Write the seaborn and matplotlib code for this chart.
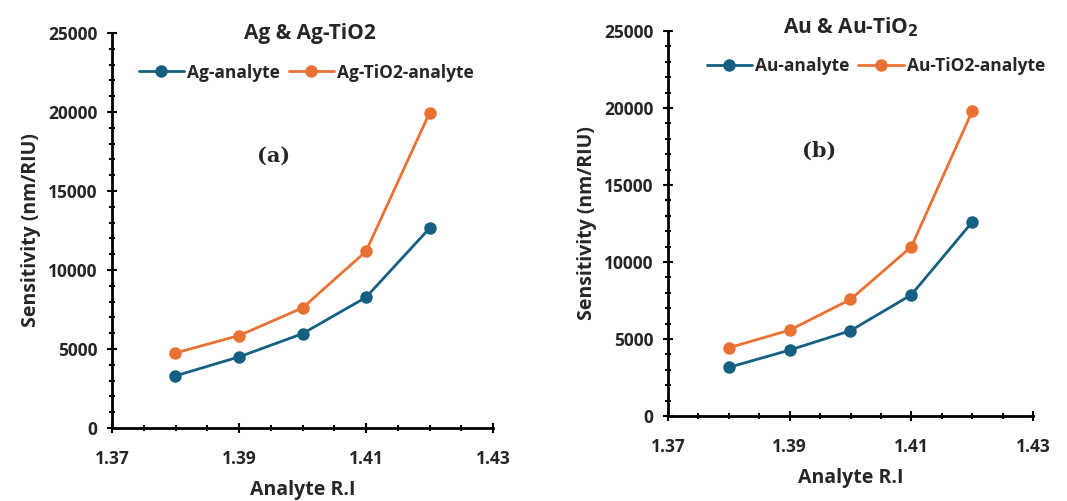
import numpy as np
import pandas as pd
import matplotlib
matplotlib.use("Agg")
import matplotlib.pyplot as plt
import seaborn as sns
from matplotlib.ticker import MultipleLocator

ri = [1.38, 1.39, 1.40, 1.41, 1.42]
ag = [3300, 4500, 5970, 8270, 12640]
ag_tio2 = [4750, 5850, 7600, 11180, 19940]
au = [3160, 4280, 5540, 7870, 12590]
au_tio2 = [4430, 5580, 7570, 10990, 19790]
xticks = [1.37, 1.39, 1.41, 1.43]
yticks = [0, 5000, 10000, 15000, 20000, 25000]

sns.set_theme(style="white")
plt.rcParams['font.family'] = ['Open Sans', 'DejaVu Sans']
plt.rcParams['font.weight'] = 'bold'

BLUE = "#156082"
ORANGE = "#E97132"

fig = plt.figure(figsize=(10.67, 5.01), dpi=100)
W, H = 1067, 501
def ax_at(x0, x1, y0, y1):
    return fig.add_axes([x0 / W, 1 - y1 / H, (x1 - x0) / W, (y1 - y0) / H])

axL = ax_at(112, 493, 33, 428)
axR = ax_at(668, 1033, 31, 416)

panels = [
    (axL, ag, ag_tio2, "Ag-analyte", "Ag-TiO2-analyte", "Ag & Ag-TiO2", "(a)",
     0.425, (0.52, 1.0), (0.51, 0.90)),
    (axR, au, au_tio2, "Au-analyte", "Au-TiO2-analyte", "Au & Au-TiO$_2$", "(b)",
     0.415, (0.50, 1.01), (0.57, 0.91)),
]

for ax, s1, s2, n1, n2, title, tag, tagx, tpos, lpos in panels:
    df = pd.DataFrame({
        "ri": ri * 2,
        "val": s1 + s2,
        "series": [n1] * len(ri) + [n2] * len(ri),
    })
    sns.lineplot(data=df, x="ri", y="val", hue="series", ax=ax,
                 palette=[BLUE, ORANGE], marker="o", markersize=9,
                 markeredgewidth=0, linewidth=2, legend=True)
    ax.set_xlim(1.37, 1.43)
    ax.set_ylim(0, 25000)
    ax.set_xticks(xticks)
    ax.set_yticks(yticks)
    ax.set_xticklabels([f"{v:.2f}" for v in xticks], fontsize=12.5, fontweight='bold')
    ax.set_yticklabels([str(v) for v in yticks], fontsize=12.5, fontweight='bold')
    ax.xaxis.set_minor_locator(MultipleLocator(0.005))
    ax.yaxis.set_minor_locator(MultipleLocator(1000))
    ax.tick_params(which='both', direction='inout', color='black', width=1.5,
                   bottom=True, left=True)
    ax.tick_params(which='major', length=7)
    ax.tick_params(axis='x', which='major', pad=12)
    ax.tick_params(axis='y', which='major', pad=7)
    ax.tick_params(which='minor', length=5)
    for sp in ['top', 'right']:
        ax.spines[sp].set_visible(False)
    for sp in ['left', 'bottom']:
        ax.spines[sp].set_color('black')
        ax.spines[sp].set_linewidth(2)
    ax.set_xlabel("Analyte R.I", fontsize=14, fontweight='bold', labelpad=9)
    ax.set_ylabel("Sensitivity (nm/RIU)", fontsize=14, fontweight='bold', labelpad=5)
    ax.text(tpos[0], tpos[1], title, transform=ax.transAxes, fontsize=15,
            fontweight='bold', ha='center', va='center')
    ax.text(tagx, 0.69, tag, transform=ax.transAxes, fontsize=15,
            fontweight='bold', family='DejaVu Serif', ha='center', va='center')
    leg = ax.legend(loc='center', bbox_to_anchor=lpos, ncol=2,
                    frameon=False, fontsize=12.5, handlelength=2.6,
                    columnspacing=0.5, handletextpad=0.2)
    for t in leg.get_texts():
        t.set_fontweight('bold')

fig.savefig("out.png", dpi=100)
